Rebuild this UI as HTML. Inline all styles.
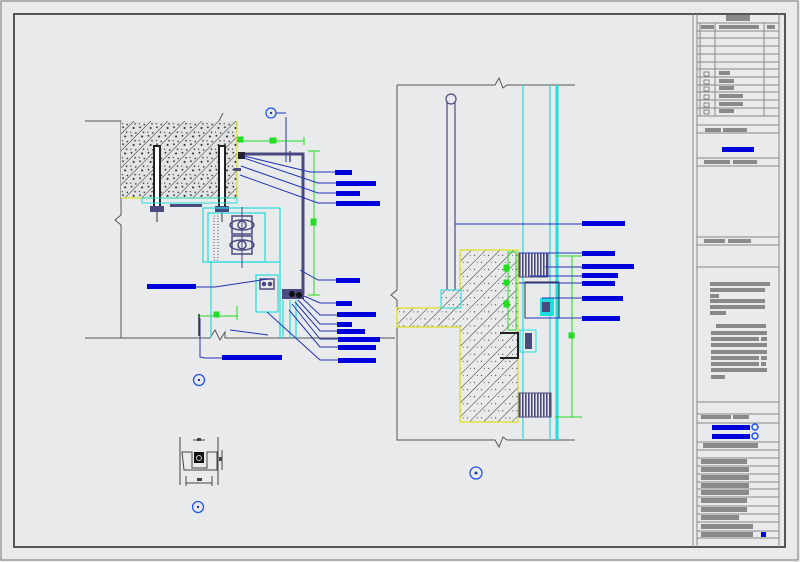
<!DOCTYPE html>
<html><head><meta charset="utf-8"><style>
html,body{margin:0;padding:0;background:#e9eaec;}
svg{display:block;}
</style></head><body>
<svg width="800" height="562" viewBox="0 0 800 562" xmlns="http://www.w3.org/2000/svg" font-family="Liberation Sans, sans-serif">
<defs>
<pattern id="hatch" width="12" height="12" patternUnits="userSpaceOnUse" patternTransform="rotate(-45)">
<rect width="12" height="12" fill="#e2e3e5"/>
<line x1="0" y1="0" x2="12" y2="0" stroke="#222" stroke-width="1"/>
<circle cx="4" cy="5" r="1" fill="#222"/><circle cx="9" cy="9" r="0.9" fill="#222"/><circle cx="2" cy="10" r="0.8" fill="#222"/><circle cx="8" cy="3" r="0.8" fill="#222"/><circle cx="11" cy="6" r="0.6" fill="#222"/>
</pattern>
<pattern id="hatch2" width="10" height="10" patternUnits="userSpaceOnUse" patternTransform="rotate(-45)">
<rect width="10" height="10" fill="#e9eaec"/>
<line x1="0" y1="0" x2="10" y2="0" stroke="#333" stroke-width="1"/>
<circle cx="5" cy="6" r="0.6" fill="#333"/><circle cx="2" cy="3" r="0.5" fill="#333"/>
</pattern>
<pattern id="grate" width="3" height="10" patternUnits="userSpaceOnUse">
<rect width="3" height="10" fill="#e9eaec"/><rect width="1.6" height="10" fill="#4a4a80"/>
</pattern>
</defs>
<rect width="800" height="562" fill="#e9eaec"/>
<rect x="1" y="1" width="797" height="559" fill="none" stroke="#777" stroke-width="1"/>
<rect x="14" y="14" width="771" height="533" fill="none" stroke="#555" stroke-width="2"/>

<g stroke="#888" stroke-width="1" fill="none">
<line x1="693" y1="14" x2="693" y2="547"/>
<line x1="697" y1="14" x2="697" y2="547" />
<line x1="779" y1="14" x2="779" y2="547"/>
<line x1="700" y1="23" x2="700" y2="116"/><line x1="715" y1="23" x2="715" y2="116"/><line x1="764" y1="23" x2="764" y2="116"/>
<g>
<line x1="697" y1="23" x2="779" y2="23"/><line x1="697" y1="31" x2="779" y2="31"/><line x1="697" y1="38" x2="779" y2="38"/><line x1="697" y1="46" x2="779" y2="46"/><line x1="697" y1="54" x2="779" y2="54"/><line x1="697" y1="62" x2="779" y2="62"/><line x1="697" y1="69" x2="779" y2="69"/><line x1="697" y1="77" x2="779" y2="77"/><line x1="697" y1="85" x2="779" y2="85"/><line x1="697" y1="92" x2="779" y2="92"/><line x1="697" y1="100" x2="779" y2="100"/><line x1="697" y1="108" x2="779" y2="108"/><line x1="697" y1="116" x2="779" y2="116"/><line x1="697" y1="125" x2="779" y2="125"/><line x1="697" y1="133" x2="779" y2="133"/><line x1="697" y1="158" x2="779" y2="158"/><line x1="697" y1="166" x2="779" y2="166"/><line x1="697" y1="237" x2="779" y2="237"/><line x1="697" y1="245" x2="779" y2="245"/><line x1="697" y1="267" x2="779" y2="267"/><line x1="697" y1="402" x2="779" y2="402"/><line x1="697" y1="414" x2="779" y2="414"/><line x1="697" y1="423" x2="779" y2="423"/><line x1="697" y1="442" x2="779" y2="442"/><line x1="697" y1="450" x2="779" y2="450"/><line x1="697" y1="458" x2="779" y2="458"/><line x1="697" y1="466" x2="779" y2="466"/><line x1="697" y1="474" x2="779" y2="474"/><line x1="697" y1="482" x2="779" y2="482"/><line x1="697" y1="489" x2="779" y2="489"/><line x1="697" y1="497" x2="779" y2="497"/><line x1="697" y1="506" x2="779" y2="506"/><line x1="697" y1="514" x2="779" y2="514"/><line x1="697" y1="522" x2="779" y2="522"/><line x1="697" y1="531" x2="779" y2="531"/><line x1="697" y1="538" x2="779" y2="538"/>
</g>
<rect x="704" y="72" width="5" height="4"/><rect x="704" y="80" width="5" height="4"/><rect x="704" y="87" width="5" height="4"/><rect x="704" y="95" width="5" height="4"/><rect x="704" y="103" width="5" height="4"/><rect x="704" y="110" width="5" height="4"/>
</g>
<g fill="#8a8a8a">
<rect x="726" y="15" width="24" height="6"/>
<rect x="701" y="25" width="13" height="4"/><rect x="719" y="25" width="40" height="4"/><rect x="767" y="25" width="8" height="4"/>
<rect x="719" y="71" width="11" height="4"/><rect x="719" y="79" width="15" height="4"/><rect x="719" y="86" width="15" height="4"/><rect x="719" y="94" width="24" height="4"/><rect x="719" y="102" width="24" height="4"/><rect x="719" y="109" width="15" height="4"/>
<rect x="705" y="128" width="16" height="4"/><rect x="723" y="128" width="24" height="4"/>
<rect x="704" y="160" width="26" height="4"/><rect x="733" y="160" width="24" height="4"/>
<rect x="704" y="239" width="21" height="4"/><rect x="728" y="239" width="23" height="4"/>
<rect x="710" y="282" width="60" height="4"/><rect x="710" y="288" width="55" height="4"/><rect x="710" y="294" width="9" height="4"/><rect x="710" y="299" width="55" height="4"/><rect x="710" y="305" width="55" height="4"/><rect x="710" y="311" width="16" height="4"/>
<rect x="716" y="324" width="50" height="4"/><rect x="711" y="331" width="56" height="4"/><rect x="711" y="337" width="48" height="4"/><rect x="761" y="337" width="6" height="4"/><rect x="711" y="343" width="56" height="4"/><rect x="711" y="350" width="56" height="4"/><rect x="711" y="356" width="48" height="4"/><rect x="761" y="356" width="6" height="4"/><rect x="711" y="362" width="48" height="4"/><rect x="761" y="362" width="5" height="4"/><rect x="711" y="368" width="56" height="4"/><rect x="711" y="375" width="14" height="4"/>
<rect x="701" y="415" width="30" height="4"/><rect x="733" y="415" width="16" height="4"/>
<rect x="703" y="443" width="55" height="5"/>
<rect x="701" y="459" width="46" height="5"/><rect x="701" y="467" width="48" height="5"/><rect x="701" y="475" width="48" height="5"/><rect x="701" y="483" width="48" height="5"/><rect x="701" y="490" width="48" height="5"/><rect x="701" y="498" width="46" height="5"/><rect x="701" y="507" width="46" height="5"/><rect x="701" y="515" width="38" height="5"/><rect x="701" y="524" width="52" height="5"/><rect x="701" y="532" width="52" height="5"/>
</g>
<rect x="722" y="147" width="32" height="5" fill="#0000dd"/>
<rect x="712" y="425" width="38" height="5" fill="#0000dd"/><rect x="712" y="434" width="38" height="5" fill="#0000dd"/>
<circle cx="755" cy="427" r="3" fill="none" stroke="#2255ee" stroke-width="1.5"/><circle cx="755" cy="436" r="3" fill="none" stroke="#2255ee" stroke-width="1.5"/>
<rect x="761" y="532" width="5" height="5" fill="#0000dd"/>

<g fill="none" stroke="#555" stroke-width="1">
<path d="M85 121 H121 V215 l-6 5 l6 5 V338"/>
<path d="M85 338 H210 l5 -8 l5 10 l5 -8 V338 H395"/>
</g>
<rect x="121" y="121" width="116" height="77" fill="url(#hatch)"/>
<path d="M121 198 H237 V121" fill="none" stroke="#dddd22" stroke-width="1.2"/>
<path d="M219 121 l4 -8" stroke="#555" fill="none"/>
<g>
<rect x="154" y="146" width="6" height="62" fill="#fff" stroke="#222" stroke-width="2"/>
<rect x="219" y="146" width="6" height="62" fill="#fff" stroke="#222" stroke-width="2"/>
<rect x="150" y="206" width="14" height="6" fill="#4a4a80"/><rect x="215" y="206" width="14" height="6" fill="#4a4a80"/>
<line x1="157" y1="212" x2="157" y2="222" stroke="#333"/><line x1="222" y1="212" x2="222" y2="222" stroke="#333"/>
</g>
<rect x="142" y="198" width="95" height="5" fill="none" stroke="#22dddd"/>
<rect x="170" y="204" width="32" height="3" fill="#4a4a80"/>
<g fill="none" stroke="#22dddd" stroke-width="1.2">
<rect x="203" y="208" width="77" height="54"/>
<rect x="208" y="213" width="57" height="49"/>
<line x1="211" y1="262" x2="211" y2="338"/><line x1="280" y1="262" x2="280" y2="338"/>
<rect x="256" y="275" width="22" height="37"/>
<line x1="283" y1="300" x2="283" y2="338"/><line x1="290" y1="300" x2="290" y2="338"/><line x1="296" y1="300" x2="296" y2="338"/>
</g>
<rect x="214" y="216" width="4" height="44" fill="none" stroke="#4a4a80" stroke-dasharray="1 2"/>
<g fill="none" stroke="#4a4a80" stroke-width="1.5">
<rect x="232" y="216" width="20" height="18"/><rect x="232" y="236" width="20" height="18"/>
<ellipse cx="242" cy="225" rx="12" ry="5"/><ellipse cx="242" cy="245" rx="12" ry="5"/>
<circle cx="242" cy="225" r="4"/><circle cx="242" cy="245" r="4"/>
<line x1="242" y1="207" x2="242" y2="268" stroke-width="1"/>
<rect x="260" y="279" width="14" height="10"/>
<circle cx="264" cy="284" r="1.5" fill="#4a4a80"/><circle cx="270" cy="284" r="1.5" fill="#4a4a80"/>
</g>
<path d="M240 154 H303 V293 H283" fill="none" stroke="#4a4a80" stroke-width="3"/>
<line x1="290" y1="151" x2="290" y2="162" stroke="#4a4a80" stroke-width="1.5"/>
<line x1="286" y1="117" x2="286" y2="162" stroke="#2233bb" stroke-width="1"/>
<line x1="276" y1="113" x2="286" y2="113" stroke="#2233bb"/>
<rect x="282" y="289" width="22" height="10" fill="#4a4a80"/>
<circle cx="292" cy="294" r="3" fill="#111"/><circle cx="299" cy="295" r="3" fill="#111"/>
<rect x="238" y="152" width="7" height="7" fill="#223"/>
<rect x="234" y="168" width="7" height="3" fill="#4a4a80"/>
<g stroke="#22dd22" stroke-width="1" fill="#22dd22">
<line x1="237" y1="141" x2="304" y2="141"/><line x1="304" y1="137" x2="304" y2="145"/>
<rect x="238" y="137" width="5" height="5"/><rect x="270" y="138" width="6" height="5"/>
<line x1="308" y1="151" x2="320" y2="151"/><line x1="314" y1="151" x2="314" y2="295"/><line x1="308" y1="295" x2="320" y2="295"/>
<rect x="311" y="219" width="5" height="6"/>
<line x1="198" y1="316" x2="238" y2="316"/><line x1="237" y1="306" x2="237" y2="320"/>
<rect x="214" y="312" width="5" height="5"/>
</g>
<line x1="199" y1="314" x2="199" y2="336" stroke="#333" stroke-width="1.5"/>
<g stroke="#2233bb" stroke-width="1" fill="none">
<path d="M244 156 L310 172 H335"/><path d="M244 158 L318 183 H336"/><path d="M241 166 L318 193 H336"/><path d="M240 175 L318 203 H336"/>
<path d="M300 270 L318 280 H336"/>
<path d="M304 296 L320 303 H336"/><path d="M302 298 L320 315 H337"/><path d="M298 300 L320 324 H337"/><path d="M295 302 L320 331 H337"/><path d="M292 304 L320 339 H338"/><path d="M289 310 L320 347 H338"/><path d="M267 312 L320 360 H338"/><path d="M268 335 L230 330"/>
<path d="M196 287 H215 L268 279"/>
<path d="M200 318 V357 L205 358 H222"/>
</g>
<g fill="#0000dd">
<rect x="335" y="170" width="17" height="5"/><rect x="336" y="181" width="40" height="5"/><rect x="336" y="191" width="24" height="5"/><rect x="336" y="201" width="44" height="5"/>
<rect x="336" y="278" width="24" height="5"/><rect x="336" y="301" width="16" height="5"/><rect x="337" y="312" width="39" height="5"/><rect x="337" y="322" width="15" height="5"/><rect x="337" y="329" width="28" height="5"/><rect x="338" y="337" width="42" height="5"/><rect x="338" y="345" width="38" height="5"/><rect x="338" y="358" width="38" height="5"/>
<rect x="147" y="284" width="49" height="5"/><rect x="222" y="355" width="60" height="5"/>
</g>
<g fill="none" stroke="#2255ee" stroke-width="1.3">
<circle cx="271" cy="113" r="5"/><circle cx="199" cy="380" r="5.5"/><circle cx="198" cy="507" r="5.5"/><circle cx="476" cy="473" r="6"/>
</g>
<g fill="#2233bb"><circle cx="271" cy="113" r="1.2"/><circle cx="199" cy="380" r="1.2"/><circle cx="198" cy="507" r="1.2"/><circle cx="476" cy="473" r="1.5"/></g>

<g stroke="#444" stroke-width="1" fill="none">
<line x1="180" y1="437" x2="180" y2="485"/><line x1="218" y1="437" x2="218" y2="485"/>
<line x1="193" y1="440" x2="205" y2="440"/>
<path d="M182 452 H192 V468 H207 V452 H217 V470 H184 Z"/>
<line x1="186" y1="483" x2="212" y2="483"/><line x1="186" y1="476" x2="186" y2="486"/><line x1="212" y1="476" x2="212" y2="486"/>
<line x1="222" y1="450" x2="222" y2="470"/>
</g>
<rect x="194" y="452" width="10" height="11" fill="#111"/>
<circle cx="199" cy="458" r="2.5" fill="none" stroke="#ccc"/>
<rect x="197" y="438" width="4" height="3" fill="#444"/><rect x="197" y="478" width="5" height="3" fill="#444"/><rect x="219" y="457" width="3" height="4" fill="#444"/>

<g fill="none" stroke="#555" stroke-width="1">
<path d="M397 85 H495 l4 -7 l4 10 l4 -3 H575"/>
<path d="M397 85 V290 l-6 5 l6 5 V440 H495 l4 7 l4 -10 l4 3 H575"/>
</g>
<rect x="447" y="100" width="8" height="192" fill="#e9eaec" stroke="#4a4a80" stroke-width="1.2"/>
<circle cx="451" cy="99" r="5" fill="#e9eaec" stroke="#4a4a80" stroke-width="1.2"/>
<path d="M397 308 H460 V250 H518 V422 H460 V327 H397 Z" fill="url(#hatch2)" stroke="#dddd22" stroke-width="1.2"/>
<rect x="441" y="290" width="20" height="18" fill="url(#hatch2)" stroke="#22dddd"/>
<g stroke="#22dddd" stroke-width="1.2">
<line x1="523" y1="85" x2="523" y2="440"/><line x1="550" y1="85" x2="550" y2="440"/>
<line x1="557" y1="85" x2="557" y2="440" stroke-width="3"/>
</g>
<rect x="519" y="253" width="29" height="24" fill="url(#grate)" stroke="#4a4a80"/>
<rect x="519" y="393" width="32" height="24" fill="url(#grate)" stroke="#4a4a80"/>
<rect x="525" y="282" width="34" height="36" fill="none" stroke="#333"/>
<rect x="540" y="298" width="14" height="18" fill="#22dddd"/>
<rect x="542" y="302" width="8" height="10" fill="#4a4a80"/>
<rect x="520" y="330" width="16" height="22" fill="none" stroke="#22dddd"/>
<rect x="525" y="333" width="7" height="16" fill="#4a4a80"/>
<path d="M500 333 H518 V358 H500" fill="none" stroke="#222" stroke-width="2"/>
<g stroke="#22dd22" fill="#22dd22">
<rect x="508" y="252" width="8" height="78" fill="none"/>
<rect x="504" y="265" width="5" height="6"/><rect x="504" y="280" width="5" height="5"/><rect x="504" y="301" width="5" height="6"/>
<line x1="555" y1="256" x2="582" y2="256"/><line x1="572" y1="256" x2="572" y2="417"/><line x1="555" y1="417" x2="582" y2="417"/>
<rect x="569" y="333" width="5" height="5"/>
</g>
<g stroke="#2233bb" stroke-width="1" fill="none">
<line x1="455" y1="224" x2="582" y2="224"/>
<line x1="519" y1="253" x2="582" y2="253"/><line x1="545" y1="267" x2="582" y2="267"/><line x1="530" y1="276" x2="582" y2="276"/><line x1="519" y1="283" x2="582" y2="283"/><line x1="542" y1="298" x2="582" y2="298"/><line x1="525" y1="318" x2="582" y2="318"/>
</g>
<g fill="#0000dd">
<rect x="582" y="221" width="43" height="5"/><rect x="582" y="251" width="33" height="5"/><rect x="582" y="264" width="52" height="5"/><rect x="582" y="273" width="36" height="5"/><rect x="582" y="281" width="33" height="5"/><rect x="582" y="296" width="41" height="5"/><rect x="582" y="316" width="38" height="5"/>
</g>
</svg>
</body></html>
